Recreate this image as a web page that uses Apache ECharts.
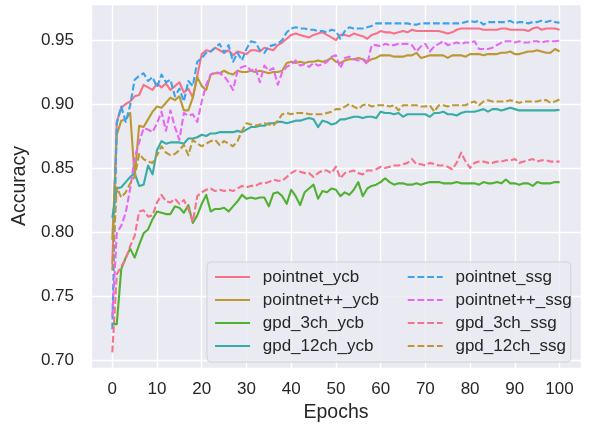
<!DOCTYPE html>
<html><head><meta charset="utf-8">
<script src="https://cdn.jsdelivr.net/npm/echarts@6/dist/echarts.min.js"></script>
<style>html,body{margin:0;padding:0;background:#fff}#c{width:590px;height:429px}</style>
</head><body><div id="c"></div>
<script>
// ---- data (accuracy per epoch, epochs 0..100) ----
const seriesNames = ['pointnet_ycb','pointnet++_ycb','gpd_3ch_ycb','gpd_12ch_ycb','pointnet_ssg','pointnet++_ssg','gpd_3ch_ssg','gpd_12ch_ssg'];
const xTickLabels = ['0','10','20','30','40','50','60','70','80','90','100'];
const yTickLabels = ['0.70','0.75','0.80','0.85','0.90','0.95'];

const pointnet_ycb = [
0.775,0.886,0.897,0.900,0.902,0.906,0.907,0.915,0.913,0.911,
0.916,0.913,0.916,0.911,0.914,0.917,0.909,0.912,0.905,0.922,
0.939,0.942,0.941,0.944,0.942,0.940,0.942,0.938,0.941,0.940,
0.939,0.942,0.942,0.941,0.944,0.943,0.942,0.946,0.948,0.951,
0.954,0.955,0.954,0.953,0.952,0.954,0.955,0.956,0.954,0.952,
0.950,0.954,0.954,0.953,0.955,0.954,0.953,0.951,0.954,0.955,
0.957,0.956,0.956,0.955,0.956,0.957,0.956,0.958,0.957,0.957,
0.957,0.957,0.957,0.957,0.956,0.955,0.956,0.958,0.959,0.959,
0.959,0.959,0.959,0.958,0.958,0.958,0.958,0.959,0.959,0.958,
0.958,0.958,0.958,0.957,0.959,0.960,0.958,0.959,0.959,0.959,
0.958];
const pointnetpp_ycb = [
0.794,0.876,0.887,0.888,0.893,0.843,0.883,0.882,0.888,0.894,
0.898,0.897,0.901,0.905,0.903,0.906,0.895,0.895,0.905,0.921,
0.914,0.911,0.923,0.924,0.924,0.926,0.924,0.923,0.926,0.925,
0.925,0.926,0.925,0.926,0.925,0.924,0.925,0.925,0.926,0.932,
0.933,0.932,0.933,0.932,0.933,0.933,0.934,0.933,0.934,0.936,
0.933,0.932,0.934,0.935,0.935,0.936,0.935,0.933,0.935,0.936,
0.938,0.938,0.938,0.937,0.937,0.937,0.938,0.938,0.940,0.936,
0.937,0.938,0.938,0.938,0.938,0.936,0.938,0.938,0.938,0.937,
0.939,0.939,0.939,0.938,0.939,0.939,0.939,0.940,0.940,0.941,
0.939,0.939,0.940,0.941,0.941,0.942,0.941,0.940,0.940,0.943,
0.941];
const gpd_3ch_ycb = [
0.728,0.728,0.771,0.780,0.787,0.780,0.790,0.799,0.802,0.810,
0.816,0.815,0.814,0.814,0.820,0.819,0.815,0.821,0.807,0.813,
0.822,0.829,0.816,0.818,0.818,0.819,0.816,0.820,0.824,0.829,
0.826,0.827,0.826,0.827,0.827,0.820,0.830,0.831,0.828,0.822,
0.833,0.828,0.821,0.831,0.834,0.837,0.826,0.832,0.831,0.834,
0.833,0.828,0.831,0.829,0.833,0.839,0.828,0.834,0.836,0.837,
0.839,0.842,0.839,0.837,0.838,0.838,0.837,0.837,0.838,0.837,
0.838,0.839,0.839,0.839,0.838,0.838,0.838,0.839,0.838,0.838,
0.838,0.838,0.837,0.839,0.838,0.838,0.839,0.838,0.841,0.838,
0.838,0.837,0.838,0.838,0.836,0.839,0.838,0.838,0.838,0.839,
0.839];
const gpd_12ch_ycb = [
0.811,0.834,0.835,0.839,0.843,0.846,0.836,0.837,0.852,0.845,
0.864,0.871,0.869,0.870,0.870,0.870,0.869,0.873,0.873,0.874,
0.876,0.875,0.877,0.877,0.878,0.878,0.878,0.878,0.879,0.878,
0.880,0.882,0.882,0.883,0.883,0.885,0.885,0.886,0.886,0.885,
0.886,0.887,0.887,0.888,0.889,0.888,0.882,0.887,0.886,0.884,
0.885,0.888,0.888,0.889,0.890,0.890,0.889,0.890,0.890,0.889,
0.894,0.893,0.893,0.892,0.893,0.890,0.892,0.892,0.892,0.892,
0.892,0.890,0.893,0.893,0.894,0.892,0.892,0.891,0.893,0.894,
0.894,0.894,0.895,0.896,0.894,0.896,0.896,0.895,0.896,0.897,
0.896,0.895,0.895,0.895,0.895,0.895,0.895,0.895,0.895,0.895,
0.8955];
const pointnet_ssg = [
0.724,0.885,0.898,0.886,0.899,0.919,0.922,0.924,0.918,0.921,
0.913,0.923,0.917,0.919,0.906,0.912,0.902,0.918,0.914,0.933,
0.936,0.940,0.941,0.944,0.947,0.940,0.946,0.933,0.940,0.934,
0.943,0.949,0.948,0.942,0.940,0.945,0.946,0.947,0.950,0.956,
0.959,0.960,0.959,0.959,0.958,0.958,0.957,0.957,0.956,0.958,
0.957,0.951,0.957,0.960,0.959,0.959,0.959,0.960,0.961,0.963,
0.963,0.963,0.963,0.963,0.963,0.963,0.963,0.962,0.962,0.963,
0.963,0.963,0.963,0.963,0.963,0.963,0.963,0.963,0.963,0.964,
0.965,0.964,0.965,0.962,0.964,0.964,0.964,0.964,0.964,0.965,
0.963,0.964,0.964,0.963,0.964,0.964,0.965,0.964,0.965,0.964,
0.9635];
const pointnetpp_ssg = [
0.734,0.799,0.805,0.815,0.834,0.858,0.870,0.881,0.880,0.878,
0.885,0.894,0.879,0.895,0.882,0.872,0.893,0.891,0.892,0.886,
0.902,0.915,0.923,0.925,0.924,0.922,0.917,0.911,0.926,0.929,
0.930,0.926,0.928,0.917,0.930,0.926,0.928,0.915,0.925,0.929,
0.931,0.934,0.930,0.931,0.929,0.932,0.930,0.931,0.933,0.937,
0.938,0.928,0.936,0.937,0.935,0.934,0.935,0.931,0.946,0.946,
0.945,0.947,0.946,0.946,0.947,0.947,0.947,0.946,0.941,0.945,
0.947,0.941,0.945,0.947,0.949,0.946,0.947,0.948,0.947,0.948,
0.948,0.949,0.943,0.943,0.943,0.944,0.946,0.948,0.949,0.949,
0.948,0.949,0.948,0.948,0.949,0.949,0.948,0.949,0.949,0.949,
0.9495];
const gpd_3ch_ssg = [
0.706,0.767,0.773,0.779,0.789,0.797,0.816,0.817,0.812,0.813,
0.823,0.829,0.824,0.823,0.826,0.822,0.825,0.818,0.808,0.828,
0.831,0.833,0.834,0.832,0.833,0.832,0.833,0.832,0.834,0.836,
0.835,0.836,0.836,0.838,0.838,0.839,0.841,0.840,0.840,0.843,
0.846,0.848,0.847,0.846,0.846,0.843,0.846,0.848,0.848,0.846,
0.851,0.842,0.846,0.847,0.848,0.846,0.845,0.848,0.848,0.849,
0.851,0.850,0.851,0.852,0.852,0.853,0.854,0.857,0.853,0.853,
0.852,0.854,0.853,0.852,0.852,0.851,0.849,0.854,0.862,0.855,
0.850,0.854,0.855,0.855,0.854,0.854,0.855,0.855,0.856,0.856,
0.857,0.854,0.855,0.856,0.857,0.855,0.856,0.856,0.855,0.855,
0.855];
const gpd_12ch_ssg = [
0.770,0.835,0.827,0.831,0.838,0.843,0.861,0.857,0.855,0.854,
0.860,0.867,0.862,0.860,0.861,0.864,0.868,0.860,0.872,0.869,
0.867,0.869,0.871,0.872,0.868,0.871,0.869,0.867,0.871,0.879,
0.885,0.884,0.883,0.884,0.885,0.884,0.883,0.887,0.892,0.893,
0.892,0.893,0.893,0.893,0.892,0.892,0.892,0.892,0.893,0.894,
0.896,0.896,0.898,0.900,0.898,0.896,0.899,0.900,0.898,0.899,
0.899,0.899,0.898,0.899,0.895,0.899,0.899,0.899,0.899,0.898,
0.898,0.899,0.894,0.899,0.899,0.898,0.899,0.899,0.899,0.899,
0.901,0.902,0.899,0.902,0.903,0.902,0.902,0.902,0.902,0.903,
0.902,0.901,0.902,0.902,0.902,0.902,0.903,0.903,0.901,0.902,
0.9035];

const seriesValues = [pointnet_ycb, pointnetpp_ycb, gpd_3ch_ycb, gpd_12ch_ycb,
                      pointnet_ssg, pointnetpp_ssg, gpd_3ch_ssg, gpd_12ch_ssg];
const seriesColors = ['#f77189','#bb9832','#50b131','#36ada4','#3ba3ec','#e866f4','#f77189','#bb9832'];
const seriesDashed = [false,false,false,false,true,true,true,true];

// ---- chart ----
const F = '"Liberation Sans", Arial, sans-serif';
const TXT = '#262626';
const chart = echarts.init(document.getElementById('c'), null, {renderer:'canvas'});

const series = seriesNames.map((name, k) => ({
  name,
  type: 'line',
  data: seriesValues[k].map((v, i) => [i, v]),
  symbol: 'none',
  showSymbol: false,
  color: seriesColors[k],
  lineStyle: { width: 2.1, color: seriesColors[k], type: seriesDashed[k] ? [6.8, 2.9] : 'solid', cap: 'butt', join: 'round' },
  emphasis: { disabled: true },
  animation: false
}));

const legendCommon = {
  orient: 'vertical',
  top: 262,
  itemWidth: 35,
  itemHeight: 14,
  itemGap: 4,
  selectedMode: false,
  itemStyle: { opacity: 0 },
  lineStyle: { width: 2.1 },
  textStyle: { fontSize: 17, fontFamily: F, color: TXT, lineHeight: 19, padding: [0, 0, 0, 7.7] }
};

chart.setOption({
  animation: false,
  backgroundColor: '#ffffff',
  grid: { left: 91, top: 4, width: 490, height: 364, show: true, backgroundColor: '#EAEAF2', borderWidth: 0, containLabel: false },
  xAxis: {
    type: 'value', min: -4.763, max: 104.8, minInterval: 10, maxInterval: 10, splitNumber: 11,
    axisLine: { show: false }, axisTick: { show: false },
    splitLine: { show: true, lineStyle: { color: '#ffffff', width: 1.4 } },
    axisLabel: {
      color: TXT, fontSize: 17, fontFamily: F, margin: 13,
      formatter: v => { const r = Math.round(v / 10); return Math.abs(v / 10 - r) < 1e-6 && xTickLabels.includes(String(r * 10)) ? String(r * 10) : ''; }
    },
    name: 'Epochs', nameLocation: 'middle', nameGap: 32,
    nameTextStyle: { fontSize: 19.5, color: TXT, fontFamily: F }
  },
  yAxis: {
    type: 'value', min: 0.69375, max: 0.97813, minInterval: 0.05, maxInterval: 0.05, splitNumber: 6,
    axisLine: { show: false }, axisTick: { show: false },
    splitLine: { show: true, lineStyle: { color: '#ffffff', width: 1.4 } },
    axisLabel: {
      color: TXT, fontSize: 17, fontFamily: F, margin: 17,
      formatter: v => { const s = v.toFixed(2); return (Math.abs(v * 20 - Math.round(v * 20)) < 1e-6 && yTickLabels.includes(s)) ? s : ''; }
    },
    name: 'Accuracy', nameLocation: 'middle', nameGap: 52,
    nameTextStyle: { fontSize: 19.5, color: TXT, fontFamily: F }
  },
  legend: [
    Object.assign({}, legendCommon, {
      data: seriesNames.slice(0, 4), left: 207,
      padding: [5.5, 0, 6.5, 7],
      backgroundColor: 'rgba(234,234,242,0.8)', borderColor: 'rgba(204,204,204,0.8)', borderWidth: 1, borderRadius: 4,
      textStyle: Object.assign({}, legendCommon.textStyle, { width: 308 })
    }),
    Object.assign({}, legendCommon, {
      data: seriesNames.slice(4), left: 406.7,
      padding: [5.5, 0, 6.5, 0]
    })
  ],
  series
});
</script>
</body></html>
